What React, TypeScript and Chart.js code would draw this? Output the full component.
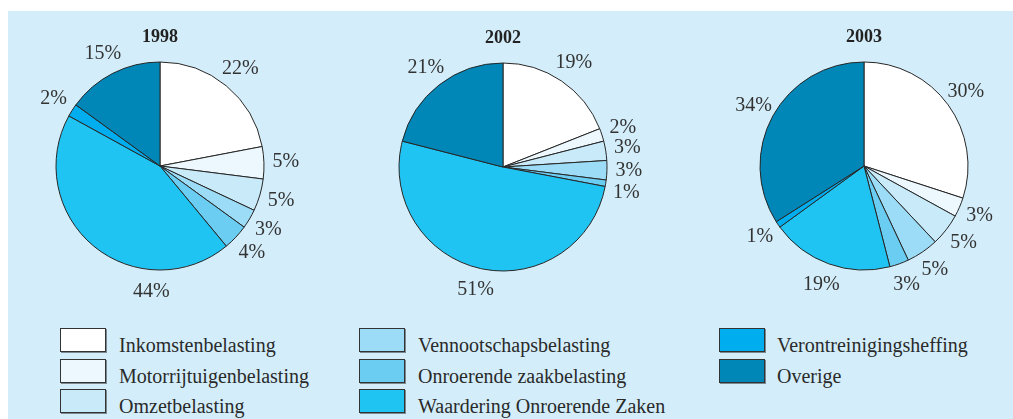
import React, { useEffect, useRef } from "react";
import { Chart, registerables } from "chart.js";

Chart.register(...registerables);

const categories = [
  "Inkomstenbelasting",
  "Motorrijtuigenbelasting",
  "Omzetbelasting",
  "Vennootschapsbelasting",
  "Onroerende zaakbelasting",
  "Waardering Onroerende Zaken",
  "Verontreinigingsheffing",
  "Overige",
];

const years = ["1998", "2002", "2003"];
const values1998 = [22, 5, 5, 3, 4, 44, 2, 15];
const values2002 = [19, 2, 3, 3, 1, 51, 0, 21];
const values2003 = [30, 3, 5, 5, 3, 19, 1, 34];
const seriesValues = [values1998, values2002, values2003];

const sliceColors = [
  "#ffffff",
  "#ecf8fd",
  "#c8eaf9",
  "#9cdcf6",
  "#6bcdf2",
  "#20c4f3",
  "#00aeef",
  "#0087b7",
];

// label placement tweaks (degrees clockwise from top) for a few slices
const labelAngleOverrides: Record<number, number>[] = [{ 5: 184 }, { 4: 102 }, {}];

const FONT = '"Liberation Serif", "DejaVu Serif", serif';
const BG = "#d3eefa";

const canvasPos = [
  { left: 2, top: 0 },
  { left: 345, top: 1 },
  { left: 706, top: 0 },
];

const labelPlugin = {
  id: "pieLabels",
  afterDatasetsDraw(chart: any) {
    const ctx = chart.ctx;
    const meta = chart.getDatasetMeta(0);
    const data = chart.data.datasets[0].data as number[];
    const overrides = (chart.options.plugins as any).pieLabels?.overrides || {};
    const title = (chart.options.plugins as any).pieLabels?.title || "";
    ctx.save();
    let cx = 0;
    let cy = 0;
    let r = 0;
    meta.data.forEach((arc: any, i: number) => {
      const p = arc.getProps(["x", "y", "startAngle", "endAngle", "outerRadius"], true);
      cx = p.x;
      cy = p.y;
      r = p.outerRadius;
      if (!data[i]) return;
      let a = (p.startAngle + p.endAngle) / 2;
      if (overrides[i] !== undefined) a = (overrides[i] * Math.PI) / 180 - Math.PI / 2;
      const d = p.outerRadius + 22;
      ctx.font = `20px ${FONT}`;
      ctx.fillStyle = "#333333";
      ctx.textAlign = "center";
      ctx.textBaseline = "middle";
      ctx.fillText(`${data[i]}%`, p.x + Math.cos(a) * d, p.y + Math.sin(a) * d);
    });
    ctx.font = `bold 18px ${FONT}`;
    ctx.fillStyle = "#222222";
    ctx.textAlign = "center";
    ctx.textBaseline = "middle";
    ctx.fillText(title, cx, cy - r - 25);
    ctx.restore();
  },
};

function PieChart({ index }: { index: number }) {
  const ref = useRef<HTMLCanvasElement | null>(null);
  useEffect(() => {
    if (!ref.current) return;
    const chart = new Chart(ref.current, {
      type: "pie",
      data: {
        labels: categories,
        datasets: [
          {
            data: seriesValues[index],
            backgroundColor: sliceColors,
            borderColor: "#262626",
            borderWidth: 1,
          },
        ],
      },
      options: {
        animation: false,
        responsive: false,
        radius: 104,
        events: [],
        layout: { padding: 0 },
        plugins: {
          legend: { display: false },
          tooltip: { enabled: false },
          pieLabels: { overrides: labelAngleOverrides[index], title: years[index] },
        } as any,
      } as any,
      plugins: [labelPlugin],
    });
    return () => chart.destroy();
  }, [index]);
  return (
    <canvas
      ref={ref}
      width={300}
      height={310}
      style={{ position: "absolute", left: canvasPos[index].left, top: canvasPos[index].top }}
    />
  );
}

const legendCols = [
  { box: 52, text: 111 },
  { box: 351, text: 410 },
  { box: 711, text: 769 },
];
const legendRows = [317, 348, 378];

export default function App() {
  return (
    <div
      style={{
        position: "absolute",
        left: 8,
        top: 11,
        width: 1005,
        height: 408,
        background: BG,
        overflow: "hidden",
      }}
    >
      {years.map((_, i) => (
        <PieChart key={i} index={i} />
      ))}
      {categories.map((c, i) => {
        const col = legendCols[Math.floor(i / 3)];
        const row = legendRows[i % 3];
        return (
          <React.Fragment key={c}>
            <div
              style={{
                position: "absolute",
                left: col.box,
                top: row,
                width: 44,
                height: 22,
                background: sliceColors[i],
                border: "1px solid #333",
                boxShadow: "1px 1px 0 #7a8a90",
              }}
            />
            <div
              style={{
                position: "absolute",
                left: col.text,
                top: row + 6,
                fontFamily: FONT,
                fontSize: 20,
                lineHeight: "23px",
                color: "#2a2a2a",
                whiteSpace: "nowrap",
              }}
            >
              {c}
            </div>
          </React.Fragment>
        );
      })}
    </div>
  );
}
